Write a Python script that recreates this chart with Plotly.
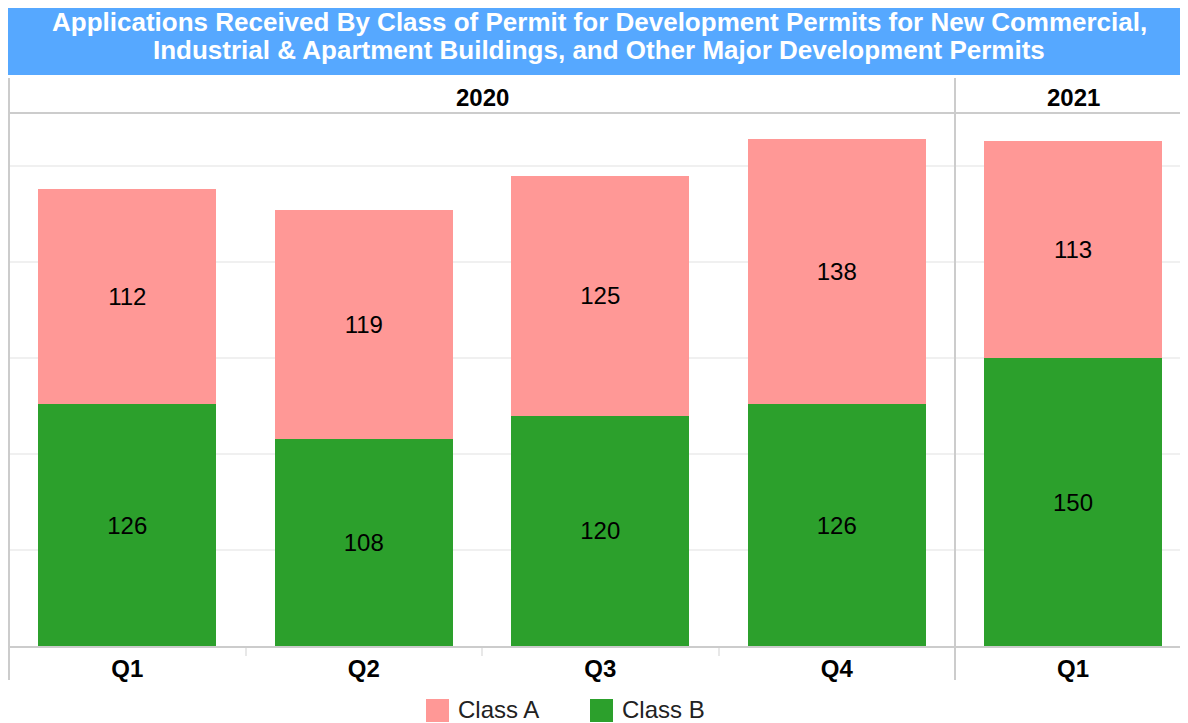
import plotly.graph_objects as go

# values
quarters_2020 = ["Q1", "Q2", "Q3", "Q4"]
class_a_2020 = [112, 119, 125, 138]
class_b_2020 = [126, 108, 120, 126]
quarters_2021 = ["Q1"]
class_a_2021 = [113]
class_b_2021 = [150]
years = ["2020", "2021"]
series_names = ["Class A", "Class B"]
colors = {"Class A": "#FF9896", "Class B": "#2CA02C"}

title_lines = ["Applications Received By Class of Permit for Development Permits for New Commercial,",
               "Industrial & Apartment Buildings, and Other Major Development Permits"]

# the page puts the figure 8px in from the top-left corner
OFF = 8
W, H = 1188 - OFF, 723 - OFF
L, R, T, B = 9 - OFF, 0, 113 - OFF, 77
pw = W - L - R
ph = H - T - B


# page pixel -> paper coords
def px(x):
    return (x - OFF - L) / pw


def py_(y):
    return (H - B - (y - OFF)) / ph


split = px(955)
font = "Arial, Liberation Sans, sans-serif"

fig = go.Figure()


def add_bars(xs, vals, name, xaxis):
    fig.add_trace(go.Bar(
        x=xs, y=vals, name=name, xaxis=xaxis, yaxis="y",
        marker=dict(color=colors[name], line=dict(width=0)),
        width=0.753,
        texttemplate="%{y}", textposition="inside", insidetextanchor="middle",
        textangle=0, constraintext="none",
        textfont=dict(family=font, size=24, color="#000000"),
        showlegend=False, hoverinfo="x+y+name",
    ))


add_bars(quarters_2020, class_b_2020, "Class B", "x")
add_bars(quarters_2020, class_a_2020, "Class A", "x")
add_bars(quarters_2021, class_b_2021, "Class B", "x2")
add_bars(quarters_2021, class_a_2021, "Class A", "x2")

xcommon = dict(
    type="category", showline=True, linecolor="#cccccc", linewidth=2,
    ticks="outside", tickson="boundaries", ticklen=8, tickcolor="#e8e8e8", tickwidth=2,
    showgrid=False, zeroline=False,
    tickfont=dict(family=font, size=24, color="#000000", weight="bold"),
)
fig.update_layout(
    xaxis=dict(domain=[0, split], range=[-0.5, 3.5], anchor="y", **xcommon),
    xaxis2=dict(domain=[split, 1], range=[-0.5, 0.487], anchor="y", **xcommon),
    yaxis=dict(range=[0, 277.6], dtick=50, showticklabels=False, showgrid=True,
               gridcolor="#f0f0f0", gridwidth=2, zeroline=False, showline=False),
    barmode="stack",
    width=W, height=H,
    margin=dict(l=L, r=R, t=T, b=B, pad=0, autoexpand=False),
    paper_bgcolor="white", plot_bgcolor="white",
    showlegend=False,
)

shapes = [
    # title bar
    dict(type="rect", xref="paper", yref="paper", x0=px(8), x1=px(1192),
         y0=py_(75), y1=py_(-4), fillcolor="#56A8FF", line=dict(width=0), layer="below"),
    # header divider
    dict(type="line", xref="paper", yref="paper", x0=0, x1=1, y0=1, y1=1,
         line=dict(color="#cccccc", width=2)),
    # left border and panel separator
    dict(type="line", xref="paper", yref="paper", x0=0, x1=0, y0=py_(78), y1=py_(680),
         line=dict(color="#cccccc", width=2)),
    dict(type="line", xref="paper", yref="paper", x0=split, x1=split, y0=py_(78), y1=py_(680),
         line=dict(color="#cccccc", width=2)),
]

annotations = []

# legend
leg_x = [426, 590]
for name, lx in zip(series_names, leg_x):
    shapes.append(dict(type="rect", xref="paper", yref="paper", x0=px(lx), x1=px(lx + 23),
                       y0=py_(699), y1=py_(722), fillcolor=colors[name], line=dict(width=0)))
    annotations.append(dict(text=name, xref="paper", yref="paper", x=px(lx + 30), y=py_(709),
                            xanchor="left", yanchor="middle", showarrow=False,
                            font=dict(family=font, size=24, color="#222222")))

for line, ly in zip(title_lines, [22, 50]):
    annotations.append(dict(text=line, xref="paper", yref="paper", x=px(599), y=py_(ly),
                            xanchor="center", yanchor="middle", showarrow=False,
                            font=dict(family=font, size=26, color="white", weight="bold")))

for yr, cx in zip(years, [482, 1073]):
    annotations.append(dict(text=yr, xref="paper", yref="paper", x=px(cx), y=py_(97),
                            xanchor="center", yanchor="middle", showarrow=False,
                            font=dict(family=font, size=24, color="#000000", weight="bold")))

fig.update_layout(shapes=shapes, annotations=annotations)
fig.write_html("out.html")
